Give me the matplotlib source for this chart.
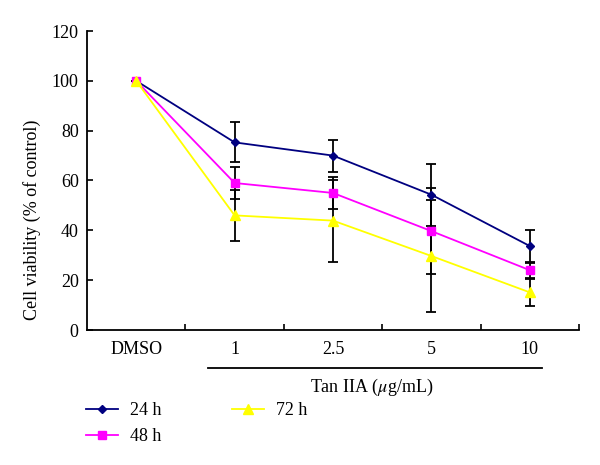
import matplotlib
matplotlib.use("Agg")
import matplotlib.pyplot as plt
import numpy as np

plt.rcParams['font.family'] = ['Liberation Serif', 'DejaVu Serif']
plt.rcParams['mathtext.fontset'] = 'stix'

categories = ["DMSO", "1", "2.5", "5", "10"]
v24 = [100, 75.3, 70.0, 54.3, 33.7]
e24 = [0, 8.0, 6.4, 12.5, 6.3]
v48 = [100, 59.0, 55.0, 39.7, 24.0]
e48 = [0, 6.6, 6.3, 17.3, 3.0]
v72 = [100, 46.0, 43.9, 29.7, 15.1]
e72 = [0, 10.3, 16.5, 22.4, 5.5]
series_labels = ["24 h", "48 h", "72 h"]
colors = ["#000080", "#ff00ff", "#ffff00"]
markers = ["D", "s", "^"]
msizes = [4.5, 6, 6.5]

fig = plt.figure(figsize=(6, 4.65), dpi=100)
ax = fig.add_axes([87/600, 1-330/465, (579-87)/600, (330-31)/465])

x = np.arange(len(categories))
handles = []
for vals, errs in zip([v24, v48, v72], [e24, e48, e72]):
    ax.errorbar(x, vals, yerr=errs, fmt='none', ecolor='black', elinewidth=1.3,
                capsize=3.5, capthick=1.3, zorder=2)
for vals, c, m, ms, lab in zip([v24, v48, v72], colors, markers, msizes, series_labels):
    h, = ax.plot(x, vals, color=c, marker=m, markersize=ms, markerfacecolor=c,
                 markeredgecolor=c, linewidth=1.3, zorder=3, label=lab)
    handles.append(h)

ax.set_xlim(-0.5, 4.5)
ax.set_ylim(0, 120)
ax.set_yticks(np.arange(0, 121, 20))
ax.set_xticks(x)
ax.set_xticklabels(categories)
ax.set_xticks(np.arange(0.5, 4.6, 1), minor=True)
ax.tick_params(axis='x', which='major', length=0, pad=8, labelsize=13)
ax.tick_params(axis='x', which='minor', direction='in', length=4, width=1.2)
ax.tick_params(axis='y', direction='in', length=4, width=1.2, pad=6, labelsize=13)
for s in ['top', 'right']:
    ax.spines[s].set_visible(False)
for s in ['left', 'bottom']:
    ax.spines[s].set_linewidth(1.3)

fig.text(32.5/600, 1-220/465, "Cell viability (% of control)", rotation=90,
         ha='center', va='center', fontsize=13)

# bracket line under dose groups
line_y = 1 - 367.7/465
fig.add_artist(plt.Line2D([208/600, 542/600], [line_y, line_y], color='black', linewidth=1.3))
fig.text(371.5/600, 1-387.5/465, r"Tan IIA ($\mu$g/mL)", ha='center', va='center', fontsize=13)

fig.legend(handles=handles, labels=series_labels, loc='upper left',
           bbox_to_anchor=(86/600, 1-402/465), ncol=2, frameon=False,
           fontsize=13, handlelength=1.75, handletextpad=0.7,
           columnspacing=3.9, labelspacing=0.5, borderaxespad=0, borderpad=0)

fig.savefig("out.png", dpi=100)
